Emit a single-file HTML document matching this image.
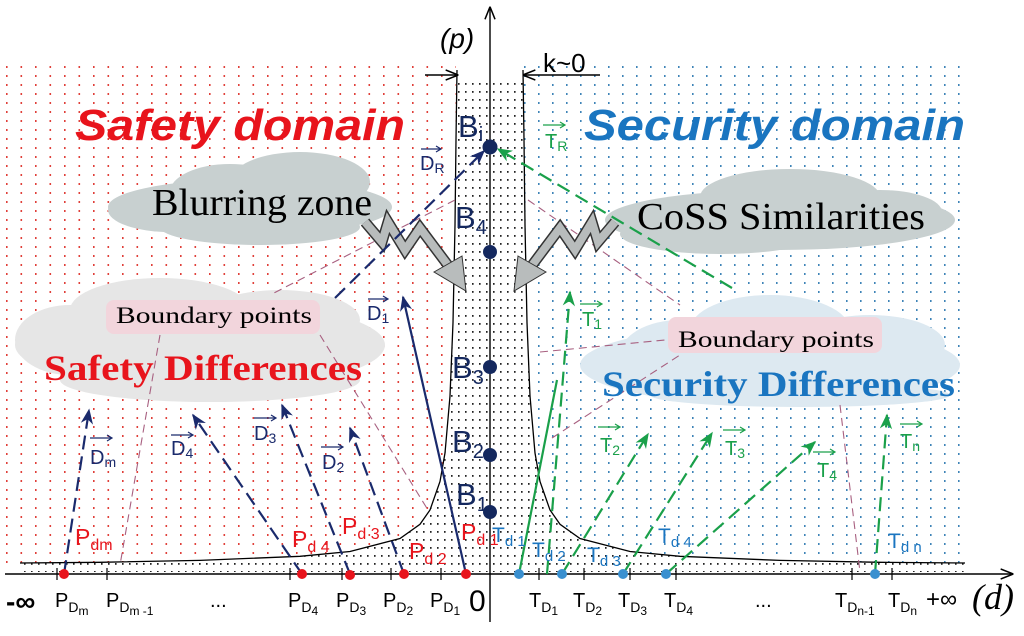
<!DOCTYPE html>
<html><head><meta charset="utf-8"><style>
html,body{margin:0;padding:0;background:#fff;}
svg{display:block;}
.s{font-family:"Liberation Sans",sans-serif;}
.r{font-family:"Liberation Serif",serif;}
</style></head><body>
<svg width="1024" height="636" viewBox="0 0 1024 636" xmlns="http://www.w3.org/2000/svg">
<defs>
<pattern id="pr" width="14.5" height="9" patternUnits="userSpaceOnUse"><rect x="6" y="3" width="1.6" height="2" fill="#e0403a"/></pattern>
<pattern id="pb" width="14" height="9" patternUnits="userSpaceOnUse"><rect x="6" y="3" width="1.6" height="2" fill="#3f84b8"/></pattern>
<pattern id="pk" width="7" height="8" patternUnits="userSpaceOnUse"><rect x="3" y="3" width="1.6" height="1.8" fill="#222"/></pattern>
<marker id="an" viewBox="0 0 10 10" refX="9" refY="5" markerWidth="7" markerHeight="7" orient="auto"><path d="M0,1 L10,5 L0,9 L3,5z" fill="#1a2a6c"/></marker>
<marker id="ag" viewBox="0 0 10 10" refX="9" refY="5" markerWidth="7" markerHeight="7" orient="auto"><path d="M0,1 L10,5 L0,9 L3,5z" fill="#1aa04a"/></marker>
<marker id="ak" viewBox="0 0 10 10" refX="9" refY="5" markerWidth="9" markerHeight="9" orient="auto"><path d="M0,1 L10,5 L0,9" fill="none" stroke="#000" stroke-width="1.2"/></marker>
</defs>
<rect x="0" y="60" width="456" height="510" fill="url(#pr)"/>
<rect x="524" y="60" width="442" height="510" fill="url(#pb)"/>
<path d="M20,563 L100,562.3 L200,560.4 L300,556.3 L350,551.5 L400,538.5 L420,524.3 L430,510 L440,481.5 L445,453 L450,396 L453,322.7 L455,225 L456,139.5 L456.5,78 L523.5,78 L524,139.5 L525,225 L527,322.7 L530,396 L535,453 L540,481.5 L550,510 L560,524.3 L580,538.5 L630,551.5 L680,556.3 L780,560.4 L880,562.3 L965,563 L965,572 L20,572z" fill="#fff"/>
<path d="M20,563 L100,562.3 L200,560.4 L300,556.3 L350,551.5 L400,538.5 L420,524.3 L430,510 L440,481.5 L445,453 L450,396 L453,322.7 L455,225 L456,139.5 L456.5,78 L523.5,78 L524,139.5 L525,225 L527,322.7 L530,396 L535,453 L540,481.5 L550,510 L560,524.3 L580,538.5 L630,551.5 L680,556.3 L780,560.4 L880,562.3 L965,563 L965,572 L20,572z" fill="url(#pk)"/>
<g fill="none" stroke="#000" stroke-width="1.3">
<path d="M20,563 L100,562.3 L200,560.4 L300,556.3 L350,551.5 L400,538.5 L420,524.3 L430,510 L440,481.5 L445,453 L450,396 L453,322.7 L455,225 L456,139.5 L457,70"/>
<path d="M523,70 L524,139.5 L525,225 L527,322.7 L530,396 L535,453 L540,481.5 L550,510 L560,524.3 L580,538.5 L630,551.5 L680,556.3 L780,560.4 L880,562.3 L965,563"/>
</g>
<!-- clouds -->
<g fill="#c8d0d0">
<ellipse cx="250" cy="207" rx="142" ry="28"/><ellipse cx="300" cy="182" rx="70" ry="30"/><ellipse cx="230" cy="192" rx="60" ry="28"/><ellipse cx="170" cy="210" rx="62" ry="22"/><ellipse cx="260" cy="227" rx="100" ry="18"/>
<ellipse cx="780" cy="220" rx="175" ry="30"/><ellipse cx="790" cy="197" rx="90" ry="28"/><ellipse cx="880" cy="212" rx="62" ry="22"/><ellipse cx="720" cy="234" rx="100" ry="20"/>
</g>
<g fill="#e6e6e6">
<ellipse cx="200" cy="345" rx="185" ry="45"/><ellipse cx="160" cy="310" rx="90" ry="32"/><ellipse cx="280" cy="320" rx="80" ry="30"/><ellipse cx="70" cy="340" rx="55" ry="35"/><ellipse cx="210" cy="380" rx="150" ry="22"/>
</g>
<g fill="#dde9f1">
<ellipse cx="770" cy="365" rx="190" ry="40"/><ellipse cx="770" cy="330" rx="80" ry="35"/><ellipse cx="870" cy="345" rx="75" ry="30"/><ellipse cx="680" cy="355" rx="60" ry="35"/><ellipse cx="800" cy="395" rx="150" ry="12"/>
</g>
<rect x="106" y="300" width="214" height="34" rx="8" fill="#f2d5dc"/>
<rect x="668" y="317" width="214" height="36" rx="8" fill="#f2d5dc"/>
<!-- pink dashed -->
<g stroke="#a86080" stroke-width="1.1" stroke-dasharray="8,5" fill="none">
<path d="M455,200 L270,295"/><path d="M160,335 L120,565"/><path d="M320,335 L428,510"/>
<path d="M528,200 L680,305"/><path d="M540,352 L665,340"/><path d="M552,438 L680,355"/><path d="M840,405 L860,572"/>
</g>
<!-- zigzag arrows -->
<g fill="none" stroke-linejoin="miter" stroke-linecap="butt">
<polyline points="365,222 382,242 388,222 405,250 420,228 450,268" stroke="#333" stroke-width="11"/>
<polyline points="365,222 382,242 388,222 405,250 420,228 450,268" stroke="#b8bcbc" stroke-width="8"/>
<polyline points="615,222 598,242 592,222 575,250 560,228 530,268" stroke="#333" stroke-width="11"/>
<polyline points="615,222 598,242 592,222 575,250 560,228 530,268" stroke="#b8bcbc" stroke-width="8"/>
</g>
<g fill="#b8bcbc" stroke="#333" stroke-width="1">
<path d="M434,272 L462,256 L466,291z"/>
<path d="M546,272 L518,256 L514,291z"/>
</g>
<!-- axes -->
<g stroke="#000" stroke-width="1.4" fill="none">
<line x1="5" y1="574" x2="1012" y2="574" marker-end="url(#ak)"/>
<line x1="490" y1="622" x2="490" y2="8" marker-end="url(#ak)"/>
<line x1="425" y1="75" x2="457" y2="75" marker-end="url(#ak)"/>
<line x1="600" y1="75" x2="524" y2="75" marker-end="url(#ak)"/>
</g>
<g stroke="#000" stroke-width="1.2">
<line x1="57" y1="568" x2="57" y2="580"/><line x1="107" y1="568" x2="107" y2="580"/><line x1="290" y1="568" x2="290" y2="580"/><line x1="342" y1="568" x2="342" y2="580"/><line x1="391" y1="568" x2="391" y2="580"/><line x1="441" y1="568" x2="441" y2="580"/>
<line x1="539" y1="568" x2="539" y2="580"/><line x1="584" y1="568" x2="584" y2="580"/><line x1="630" y1="568" x2="630" y2="580"/><line x1="676" y1="568" x2="676" y2="580"/><line x1="852" y1="568" x2="852" y2="580"/><line x1="892" y1="568" x2="892" y2="580"/>
</g>
<!-- vectors -->
<g stroke="#1a2a6c" stroke-width="2.2" fill="none" stroke-dasharray="14,7" marker-end="url(#an)">
<path d="M64,574 L89,410"/><path d="M302,574 L193,415"/><path d="M350,574 L282,405"/><path d="M404,574 L350,428"/><path d="M335,298 L484,151"/>
</g>
<path d="M466,574 L403,297" stroke="#1a2a6c" stroke-width="2.2" fill="none" marker-end="url(#an)"/>
<g stroke="#1aa04a" stroke-width="2.2" fill="none" stroke-dasharray="14,7" marker-end="url(#ag)">
<path d="M562,574 L648,434"/><path d="M623,574 L712,433"/><path d="M666,574 L815,442"/><path d="M875,574 L887,415"/><path d="M732,288 L498,149"/><path d="M547,574 L570,292"/>
</g>
<path d="M519,574 L557,380" stroke="#1aa04a" stroke-width="2.2" fill="none"/>
<!-- dots -->
<g fill="#14285e"><circle cx="490" cy="147" r="7.5"/><circle cx="490" cy="252" r="7"/><circle cx="490" cy="367" r="7"/><circle cx="490" cy="455" r="7"/><circle cx="490" cy="512" r="7"/></g>
<g fill="#e8141c"><circle cx="64" cy="574" r="5"/><circle cx="302" cy="574" r="5"/><circle cx="350" cy="575" r="5"/><circle cx="404" cy="574" r="5"/><circle cx="466" cy="574" r="5"/></g>
<g fill="#3a90d0"><circle cx="519" cy="574" r="5"/><circle cx="562" cy="574" r="5"/><circle cx="623" cy="574" r="5"/><circle cx="666" cy="574" r="5"/><circle cx="875" cy="574" r="5"/></g>
<!-- titles -->
<text x="75" y="140" class="s" font-size="44" font-weight="bold" font-style="italic" fill="#e8141c" textLength="330" lengthAdjust="spacingAndGlyphs">Safety domain</text>
<text x="584" y="140" class="s" font-size="44" font-weight="bold" font-style="italic" fill="#1a75c0" textLength="381" lengthAdjust="spacingAndGlyphs">Security domain</text>
<text x="440" y="48" class="s" font-size="28" font-style="italic">(p)</text>
<text x="543" y="72" class="s" font-size="26">k~0</text>
<text x="152" y="215" class="r" font-size="38" textLength="220" lengthAdjust="spacingAndGlyphs">Blurring zone</text>
<text x="637" y="229" class="r" font-size="38" textLength="288" lengthAdjust="spacingAndGlyphs">CoSS Similarities</text>
<text x="116" y="323" class="r" font-size="23" textLength="196" lengthAdjust="spacingAndGlyphs">Boundary points</text>
<text x="678" y="347" class="r" font-size="23" textLength="196" lengthAdjust="spacingAndGlyphs">Boundary points</text>
<text x="44" y="380" class="r" font-size="36" font-weight="bold" fill="#e8141c" textLength="318" lengthAdjust="spacingAndGlyphs">Safety Differences</text>
<text x="602" y="396" class="r" font-size="36" font-weight="bold" fill="#1a75c0" textLength="353" lengthAdjust="spacingAndGlyphs">Security Differences</text>
<!-- B labels -->
<g class="s" font-size="31" fill="#14285e">
<text x="458" y="137">B<tspan font-size="20" dy="4">i</tspan></text>
<text x="455" y="228">B<tspan font-size="20" dy="6">4</tspan></text>
<text x="452" y="378">B<tspan font-size="20" dy="6">3</tspan></text>
<text x="452" y="452">B<tspan font-size="20" dy="6">2</tspan></text>
<text x="456" y="505">B<tspan font-size="20" dy="6">1</tspan></text>
</g>
<!-- vector labels -->
<g class="s" font-size="20" fill="#1a2a6c">
<text x="420" y="170">D<tspan font-size="14" dy="3">R</tspan></text>
<text x="367" y="320">D<tspan font-size="14" dy="3">1</tspan></text>
<text x="90" y="464">D<tspan font-size="14" dy="3">m</tspan></text>
<text x="171" y="455">D<tspan font-size="14" dy="3">4</tspan></text>
<text x="254" y="440">D<tspan font-size="14" dy="3">3</tspan></text>
<text x="322" y="469">D<tspan font-size="14" dy="3">2</tspan></text>
</g>
<g stroke="#1a2a6c" stroke-width="1.2" fill="none">
<path d="M421,149 h20 m-5,-3 l5,3 l-5,3"/><path d="M368,299 h20 m-5,-3 l5,3 l-5,3"/><path d="M90,438 h22 m-5,-3 l5,3 l-5,3"/><path d="M171,435 h22 m-5,-3 l5,3 l-5,3"/><path d="M254,418 h22 m-5,-3 l5,3 l-5,3"/><path d="M321,447 h22 m-5,-3 l5,3 l-5,3"/>
</g>
<g class="s" font-size="20" fill="#1aa04a">
<text x="545" y="148">T<tspan font-size="14" dy="3">R</tspan></text>
<text x="582" y="326">T<tspan font-size="14" dy="3">1</tspan></text>
<text x="600" y="452">T<tspan font-size="14" dy="3">2</tspan></text>
<text x="725" y="455">T<tspan font-size="14" dy="3">3</tspan></text>
<text x="817" y="477">T<tspan font-size="14" dy="3">4</tspan></text>
<text x="900" y="448">T<tspan font-size="14" dy="3">n</tspan></text>
</g>
<g stroke="#1aa04a" stroke-width="1.2" fill="none">
<path d="M543,125 h22 m-5,-3 l5,3 l-5,3"/><path d="M580,304 h22 m-5,-3 l5,3 l-5,3"/><path d="M598,427 h22 m-5,-3 l5,3 l-5,3"/><path d="M723,430 h22 m-5,-3 l5,3 l-5,3"/><path d="M813,452 h22 m-5,-3 l5,3 l-5,3"/><path d="M900,424 h22 m-5,-3 l5,3 l-5,3"/>
</g>
<!-- point labels -->
<g class="s" font-size="23" fill="#e8141c">
<text x="75" y="545">P<tspan font-size="16" dy="5">dm</tspan></text>
<text x="292" y="547">P<tspan font-size="16" dy="5">d 4</tspan></text>
<text x="342" y="534">P<tspan font-size="16" dy="5">d 3</tspan></text>
<text x="409" y="559">P<tspan font-size="16" dy="5">d 2</tspan></text>
<text x="461" y="540">P<tspan font-size="16" dy="5">d 1</tspan></text>
</g>
<g class="s" font-size="21" fill="#1a75c0">
<text x="492" y="542">T<tspan font-size="15" dy="4">d 1</tspan></text>
<text x="532" y="557">T<tspan font-size="15" dy="4">d 2</tspan></text>
<text x="587" y="562">T<tspan font-size="15" dy="4">d 3</tspan></text>
<text x="658" y="543">T<tspan font-size="15" dy="4">d 4</tspan></text>
<text x="888" y="548">T<tspan font-size="15" dy="4">d n</tspan></text>
</g>
<!-- axis labels -->
<g class="s" font-size="20" fill="#000">
<text x="6" y="611" font-size="28" font-weight="bold">-∞</text>
<text x="55" y="607">P<tspan font-size="14" dy="5">D</tspan><tspan font-size="12" dy="3">m</tspan></text>
<text x="106" y="607">P<tspan font-size="14" dy="5">D</tspan><tspan font-size="12" dy="3">m -1</tspan></text>
<text x="210" y="607">...</text>
<text x="288" y="607">P<tspan font-size="14" dy="5">D</tspan><tspan font-size="12" dy="3">4</tspan></text>
<text x="336" y="607">P<tspan font-size="14" dy="5">D</tspan><tspan font-size="12" dy="3">3</tspan></text>
<text x="383" y="607">P<tspan font-size="14" dy="5">D</tspan><tspan font-size="12" dy="3">2</tspan></text>
<text x="430" y="607">P<tspan font-size="14" dy="5">D</tspan><tspan font-size="12" dy="3">1</tspan></text>
<text x="469" y="611" font-size="30">0</text>
<text x="529" y="607">T<tspan font-size="14" dy="5">D</tspan><tspan font-size="12" dy="3">1</tspan></text>
<text x="573" y="607">T<tspan font-size="14" dy="5">D</tspan><tspan font-size="12" dy="3">2</tspan></text>
<text x="618" y="607">T<tspan font-size="14" dy="5">D</tspan><tspan font-size="12" dy="3">3</tspan></text>
<text x="664" y="607">T<tspan font-size="14" dy="5">D</tspan><tspan font-size="12" dy="3">4</tspan></text>
<text x="755" y="607">...</text>
<text x="835" y="607">T<tspan font-size="14" dy="5">D</tspan><tspan font-size="12" dy="3">n-1</tspan></text>
<text x="888" y="607">T<tspan font-size="14" dy="5">D</tspan><tspan font-size="12" dy="3">n</tspan></text>
<text x="926" y="607" font-size="24">+∞</text>
</g>
<text x="972" y="609" class="r" font-size="36" font-style="italic">(d)</text>
</svg>
</body></html>
